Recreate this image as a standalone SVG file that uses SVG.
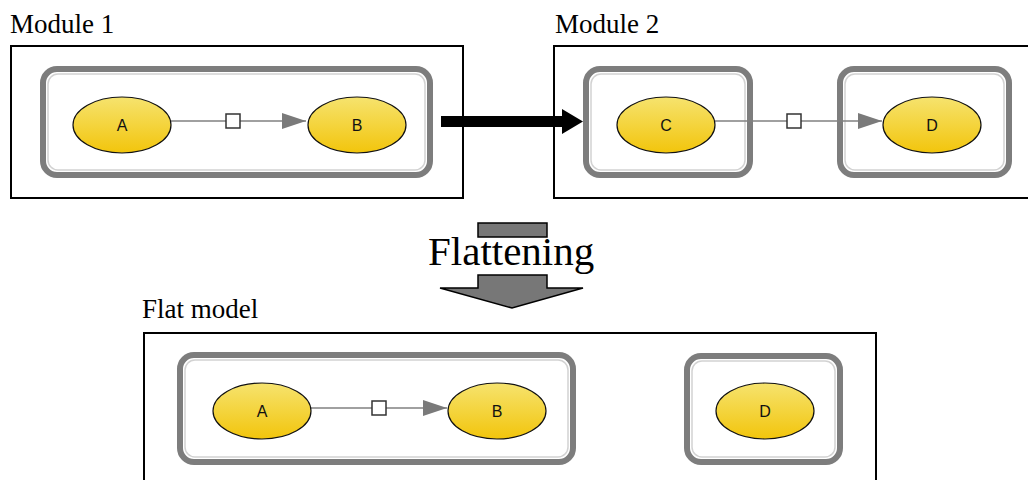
<svg xmlns="http://www.w3.org/2000/svg" width="1028" height="480" viewBox="0 0 1028 480">
  <defs>
    <linearGradient id="gold" x1="0" y1="0" x2="0" y2="1">
      <stop offset="0" stop-color="#f6e36e"/>
      <stop offset="1" stop-color="#f2c50c"/>
    </linearGradient>
    <marker id="tri" viewBox="0 0 24 16" refX="24" refY="8" markerWidth="24" markerHeight="16" markerUnits="userSpaceOnUse" orient="auto">
      <path d="M0,0 L24,8 L0,16 Z" fill="#7a7a7a"/>
    </marker>
  </defs>
  <style>
    .label { font-family: "Liberation Serif", "Times New Roman", serif; font-size: 27px; fill: #000; }
    .title { font-family: "Liberation Serif", "Times New Roman", serif; font-size: 41px; fill: #000; }
    .frame { fill: #fff; stroke: #000; stroke-width: 2; }
    .comp { fill: #fff; stroke: #7d7d7d; stroke-width: 6; }
    .comp-in { fill: none; stroke: #d2d2d2; stroke-width: 1.5; }
    .species { fill: url(#gold); stroke: #111; stroke-width: 1.2; }
    .name { font-family: "Liberation Sans", Arial, sans-serif; font-size: 16px; fill: #111; text-anchor: middle; }
    .edge { fill: none; stroke: #808080; stroke-width: 1.5; marker-end: url(#tri); }
    .rxn { fill: #fff; stroke: #333; stroke-width: 1.5; }
    .flat { fill: #777; stroke: #000; stroke-width: 1.5; }
  </style>

  <rect width="1028" height="480" fill="#fff"/>

  <!-- module frames and titles -->
  <g id="module1">
    <text class="label" x="10" y="33">Module 1</text>
    <rect class="frame" x="11" y="46" width="452" height="152"/>
  </g>
  <g id="module2">
    <text class="label" x="555" y="33">Module 2</text>
    <rect class="frame" x="554" y="46" width="480" height="152"/>
  </g>
  <g id="flatmodel">
    <text class="label" x="142" y="318">Flat model</text>
    <rect class="frame" x="144" y="333" width="732" height="160"/>
  </g>

  <!-- compartments -->
  <g id="comp-m1">
    <rect class="comp" x="43" y="69" width="387" height="106" rx="14"/>
    <rect class="comp-in" x="48" y="74" width="377" height="96" rx="10"/>
  </g>
  <g id="comp-m2-c">
    <rect class="comp" x="586" y="69" width="164" height="106" rx="14"/>
    <rect class="comp-in" x="591" y="74" width="154" height="96" rx="10"/>
  </g>
  <g id="comp-m2-d">
    <rect class="comp" x="840" y="69" width="169" height="106" rx="14"/>
    <rect class="comp-in" x="845" y="74" width="159" height="96" rx="10"/>
  </g>
  <g id="comp-flat-ab">
    <rect class="comp" x="180" y="355" width="393" height="107" rx="14"/>
    <rect class="comp-in" x="185" y="360" width="383" height="97" rx="10"/>
  </g>
  <g id="comp-flat-d">
    <rect class="comp" x="687" y="356" width="153" height="106" rx="14"/>
    <rect class="comp-in" x="692" y="361" width="143" height="96" rx="10"/>
  </g>

  <!-- connectors -->
  <g id="connectors">
    <line class="edge" x1="170" y1="121" x2="306" y2="121"/>
    <rect class="rxn" x="226" y="114" width="14" height="14"/>
    <line class="edge" x1="715" y1="121" x2="882" y2="121"/>
    <rect class="rxn" x="787" y="114" width="14" height="14"/>
    <line class="edge" x1="311" y1="408" x2="447" y2="408"/>
    <rect class="rxn" x="372" y="401" width="14" height="14"/>
    <!-- module link -->
    <path d="M441,116 H562 V109 L583,121.5 L562,134 V127 H441 Z" fill="#000"/>
    <!-- flattening arrow -->
    <rect class="flat" x="478" y="223" width="69" height="14"/>
    <path class="flat" d="M478,275 H547 V288 H583 L512,308 L440,288 H478 Z"/>
  </g>
  <text class="title" x="428" y="265">Flattening</text>

  <!-- species -->
  <g id="m1-A"><ellipse class="species" cx="122" cy="125" rx="49" ry="28"/><text class="name" x="122" y="131">A</text></g>
  <g id="m1-B"><ellipse class="species" cx="357" cy="125" rx="49" ry="28"/><text class="name" x="357" y="131">B</text></g>
  <g id="m2-C"><ellipse class="species" cx="666" cy="125" rx="49" ry="28"/><text class="name" x="666" y="131">C</text></g>
  <g id="m2-D"><ellipse class="species" cx="932" cy="125" rx="49" ry="28"/><text class="name" x="932" y="131">D</text></g>
  <g id="flat-A"><ellipse class="species" cx="262" cy="411" rx="49" ry="28"/><text class="name" x="262" y="417">A</text></g>
  <g id="flat-B"><ellipse class="species" cx="497" cy="411" rx="49" ry="28"/><text class="name" x="497" y="417">B</text></g>
  <g id="flat-D"><ellipse class="species" cx="765" cy="411" rx="49" ry="28"/><text class="name" x="765" y="417">D</text></g>
</svg>
